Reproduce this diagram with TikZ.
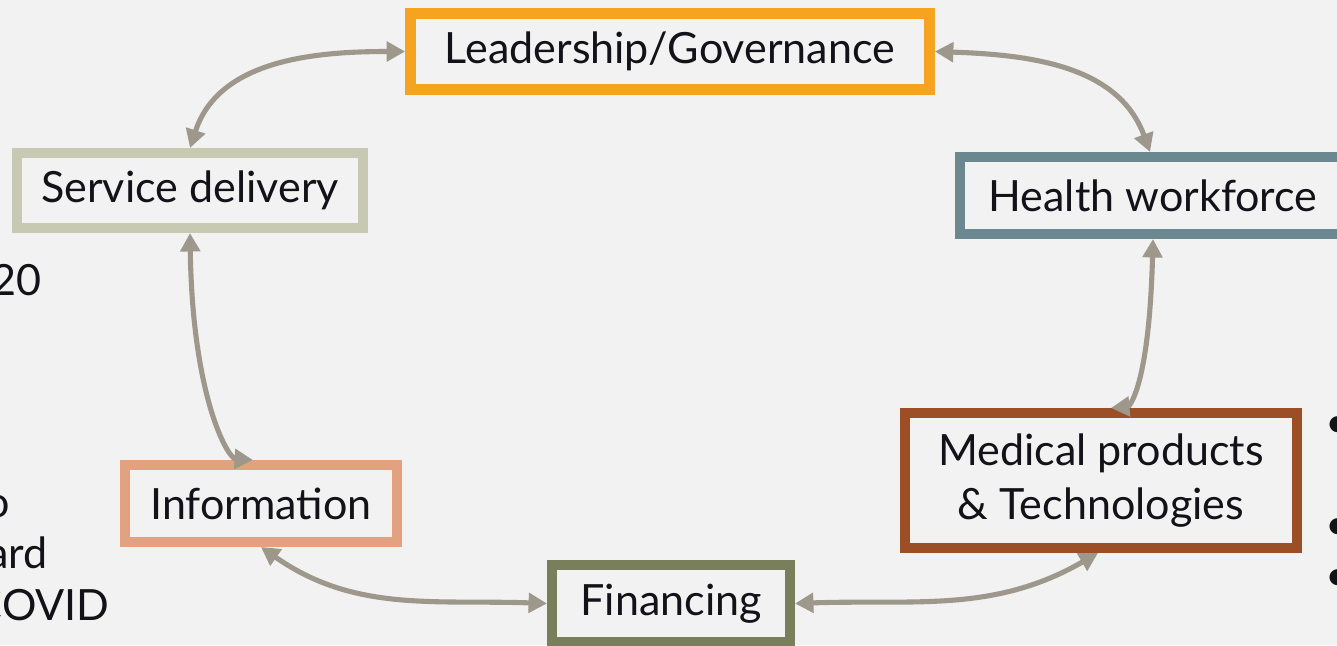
\documentclass[tikz,border=0pt]{standalone}
\usepackage{fontspec}
\setmainfont{Lato}
\usepackage{tikz}
\usetikzlibrary{positioning,arrows.meta}
\definecolor{bgcol}{HTML}{F2F2F2}
\definecolor{textcol}{HTML}{121218}
\definecolor{arrowcol}{HTML}{9E978C}
\definecolor{leadcol}{HTML}{F6A31F}
\definecolor{servcol}{HTML}{C8C9B3}
\definecolor{workcol}{HTML}{6B8790}
\definecolor{medcol}{HTML}{9C4E27}
\definecolor{infocol}{HTML}{E2A281}
\definecolor{fincol}{HTML}{797F5A}

\begin{document}
\begin{tikzpicture}[x=0.02cm,y=-0.02cm,
    block/.style={draw,line width=5.7pt,fill=bgcol,inner sep=0pt,font=\fontsize{24.5}{31}\selectfont,text=textcol,align=center},
    link/.style={draw=arrowcol,line width=2.9pt,{Triangle[length=10.5pt,width=11pt]}-{Triangle[length=10.5pt,width=11pt]}},
    frag/.style={font=\fontsize{24.5}{31}\selectfont,text=textcol,inner sep=0pt}]
  \fill[bgcol] (0,0) rectangle (1337,645);
  \useasboundingbox (0,0) rectangle (1337,645);
  \clip (0,0) rectangle (1337,645);

  \node[block,draw=leadcol,line width=6.2pt,minimum width=10.38cm,minimum height=1.52cm](leadership) at (670,51.5) {Leadership/Governance};
  \node[block,draw=servcol,minimum width=6.92cm,minimum height=1.5cm](service) at (190,190.5) {Service delivery};
  \node[block,draw=workcol,minimum width=7.72cm,minimum height=1.54cm](workforce) at (1153,195.5) {Health workforce};
  \node[block,draw=medcol,minimum width=7.84cm,minimum height=2.7cm](medical) at (1101,480.5) {Medical products\\\& Technologies};
  \node[block,draw=infocol,minimum width=5.44cm,minimum height=1.54cm](information) at (261,503.5) {Information};
  \node[block,draw=fincol,minimum width=4.76cm,minimum height=1.54cm](financing) at (671,603.5) {Financing};

  \draw[link] (leadership.west) to[out=180,in=72] (service.north);
  \draw[link] (leadership.east) to[out=-2,in=110] ([xshift=-0.06cm]workforce.north);
  \draw[link] (workforce.south) .. controls +(-0.08cm,-3cm) and +(0.35cm,0.03cm) .. ([xshift=0.2cm]medical.north);
  \draw[link] (financing.east) to[out=2,in=-150] ([xshift=-0.06cm]medical.south);
  \draw[link] (financing.west) to[out=178,in=-35] (information.south);
  \draw[link] (service.south) .. controls +(0.05cm,-3.3cm) and +(-0.5cm,0.03cm) .. ([xshift=-0.16cm]information.north);

  \node[frag,anchor=base east](year) at (42,295) {20};
  \node[frag,anchor=base east](partone) at (10,517) {o};
  \node[frag,anchor=base east](parttwo) at (48,568) {ard};
  \node[frag,anchor=base east](covid) at (110,620) {COVID};
  \node[frag](dotone) at (1338,427) {•};
  \node[frag](dottwo) at (1338,529) {•};
  \node[frag](dotthree) at (1338,580) {•};
\end{tikzpicture}
\end{document}
